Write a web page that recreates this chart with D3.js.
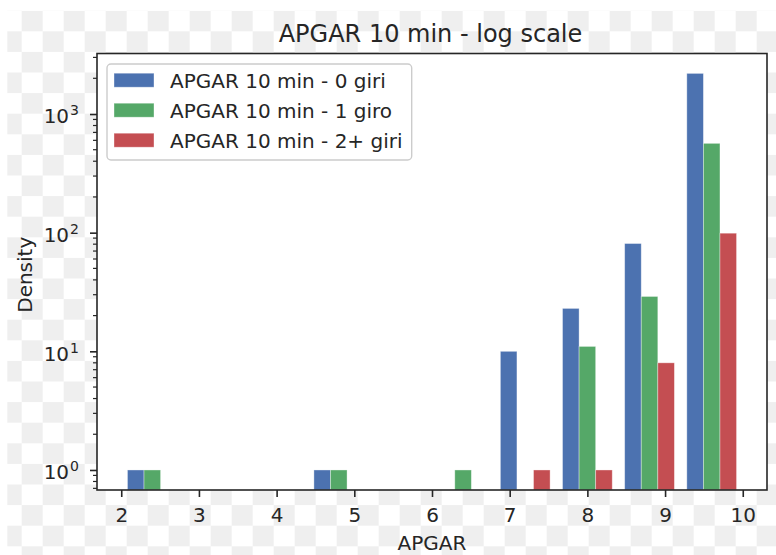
<!DOCTYPE html>
<html>
<head>
<meta charset="utf-8">
<script src="https://cdn.jsdelivr.net/npm/d3@7"></script>
<style>
  html, body { margin: 0; padding: 0; background: #fff; }
  svg { display: block; font-family: "DejaVu Sans", sans-serif; }
</style>
</head>
<body>
<svg id="chart" width="776" height="555"></svg>
<script>
// ---- data ----
const binEdges = [2, 2.8, 3.6, 4.4, 5.2, 6.0, 6.8, 7.6, 8.4, 9.2, 10];
const seriesNames = ["APGAR 10 min - 0 giri", "APGAR 10 min - 1 giro", "APGAR 10 min - 2+ giri"];
const counts0 = [1, 0, 0, 1, 0, 0, 10, 23, 81, 2200];
const counts1 = [1, 0, 0, 1, 0, 1, 0, 11, 29, 566];
const counts2 = [0, 0, 0, 0, 0, 0, 1, 1, 8, 99];
const seriesColors = ["#4C72B0", "#55A868", "#C44E52"];
const xTicks = [2, 3, 4, 5, 6, 7, 8, 9, 10];
const yMajorExp = [0, 1, 2, 3];
const titleText = "APGAR 10 min - log scale";
const xLabel = "APGAR";
const yLabel = "Density";

const allSeries = [counts0, counts1, counts2];

// ---- layout ----
const W = 776, H = 555;
const plot = { left: 97, right: 767, top: 53.5, bottom: 490 };
const svg = d3.select("#chart");

// checkerboard background (transparency display)
const defs = svg.append("defs");
const cs = 21, rs = 20.6;
const pat = defs.append("pattern").attr("id", "checker")
  .attr("patternUnits", "userSpaceOnUse")
  .attr("x", 0.7).attr("y", 10.7)
  .attr("width", cs * 2).attr("height", rs * 2);
pat.append("rect").attr("width", cs * 2).attr("height", rs * 2).attr("fill", "#ffffff");
pat.append("rect").attr("x", cs).attr("y", 0).attr("width", cs).attr("height", rs).attr("fill", "#efefef");
pat.append("rect").attr("x", 0).attr("y", rs).attr("width", cs).attr("height", rs).attr("fill", "#efefef");
svg.append("rect").attr("x", 7.3).attr("y", 10.7)
  .attr("width", W - 7.3).attr("height", H - 10.7).attr("fill", "url(#checker)");

// plot background
svg.append("rect").attr("x", plot.left).attr("y", plot.top)
  .attr("width", plot.right - plot.left).attr("height", plot.bottom - plot.top)
  .attr("fill", "#ffffff");

// ---- scales ----
const x = d3.scaleLinear().domain([1.688, 10.312]).range([plot.left, plot.right]);
const y = d3.scaleLog().domain([0.678, 3236]).range([plot.bottom, plot.top]);

// ---- bars ----
const nS = allSeries.length;
const bars = [];
allSeries.forEach((vals, s) => {
  vals.forEach((v, i) => {
    if (v > 0) {
      const bw = binEdges[i + 1] - binEdges[i];
      const w = bw * 0.8 / nS;
      const x0 = binEdges[i] + bw * 0.1 + s * w;
      bars.push({ s, v, x0, x1: x0 + w });
    }
  });
});
svg.append("g").selectAll("rect").data(bars).enter().append("rect")
  .attr("x", d => x(d.x0))
  .attr("width", d => x(d.x1) - x(d.x0))
  .attr("y", d => y(d.v))
  .attr("height", d => plot.bottom - y(d.v))
  .attr("fill", d => seriesColors[d.s])
  .attr("stroke", "#ffffff").attr("stroke-opacity", 0.45).attr("stroke-width", 0.8);

// ---- axes ----
const axisColor = "#262626";
// x axis
const xAxis = d3.axisBottom(x).tickValues(xTicks).tickSize(7).tickPadding(7).tickFormat(d3.format("d"));
const gx = svg.append("g").attr("transform", `translate(0,${plot.bottom})`).call(xAxis);
gx.select(".domain").remove();
gx.selectAll(".tick line").attr("stroke", axisColor).attr("stroke-width", 1.6);
gx.selectAll(".tick text").attr("font-size", 20).attr("fill", "#262626")
  .attr("font-family", "DejaVu Sans").attr("dy", null).attr("y", 31.5);

// y axis major
const yMajor = yMajorExp.map(e => Math.pow(10, e));
const yAxis = d3.axisLeft(y).tickValues(yMajor).tickSize(7).tickFormat("");
const gy = svg.append("g").attr("transform", `translate(${plot.left},0)`).call(yAxis);
gy.select(".domain").remove();
gy.selectAll(".tick line").attr("stroke", axisColor).attr("stroke-width", 1.6);
gy.selectAll(".tick text").remove();
// major labels with superscripts
const lab = svg.append("g");
yMajorExp.forEach(e => {
  const t = lab.append("text")
    .attr("x", 79).attr("y", y(Math.pow(10, e)) + 9.3)
    .attr("text-anchor", "end").attr("font-size", 20).attr("fill", "#262626");
  t.append("tspan").text("10");
  t.append("tspan").attr("font-size", 14).attr("dy", -8).attr("dx", 1).text(String(e));
});

// y minor ticks
const minorVals = [];
for (let e = -1; e <= 3; e++) {
  for (let m = 2; m <= 9; m++) {
    const v = m * Math.pow(10, e);
    if (v >= y.domain()[0] && v <= y.domain()[1]) minorVals.push(v);
  }
}
svg.append("g").selectAll("line").data(minorVals).enter().append("line")
  .attr("x1", plot.left - 4).attr("x2", plot.left)
  .attr("y1", d => y(d)).attr("y2", d => y(d))
  .attr("stroke", axisColor).attr("stroke-width", 1.2);

// spines
svg.append("rect").attr("x", plot.left).attr("y", plot.top)
  .attr("width", plot.right - plot.left).attr("height", plot.bottom - plot.top)
  .attr("fill", "none").attr("stroke", axisColor).attr("stroke-width", 1.6);

// ---- labels ----
svg.append("text").attr("x", (plot.left + plot.right) / 2 - 1.5).attr("y", 41.7)
  .attr("text-anchor", "middle").attr("font-size", 24).attr("fill", "#262626").text(titleText);
svg.append("text").attr("x", (plot.left + plot.right) / 2).attr("y", 550)
  .attr("text-anchor", "middle").attr("font-size", 20).attr("fill", "#262626").text(xLabel);
svg.append("text").attr("transform", `translate(31.7,${(plot.top + plot.bottom) / 2 + 3}) rotate(-90)`)
  .attr("text-anchor", "middle").attr("font-size", 20).attr("fill", "#262626").text(yLabel);

// ---- legend ----
const leg = svg.append("g");
leg.append("rect").attr("x", 107).attr("y", 64).attr("width", 304.7).attr("height", 96)
  .attr("rx", 4).attr("fill", "#ffffff").attr("fill-opacity", 0.8)
  .attr("stroke", "#cccccc").attr("stroke-width", 1.4);
seriesNames.forEach((name, i) => {
  const cy = 80.2 + i * 30;
  leg.append("rect").attr("x", 114).attr("y", cy - 7).attr("width", 40).attr("height", 14)
    .attr("fill", seriesColors[i]).attr("stroke", "#ffffff").attr("stroke-opacity", 0.45).attr("stroke-width", 0.8);
  leg.append("text").attr("x", 170).attr("y", cy + 7.3)
    .attr("font-size", 20).attr("fill", "#262626").text(name);
});
</script>
</body>
</html>
